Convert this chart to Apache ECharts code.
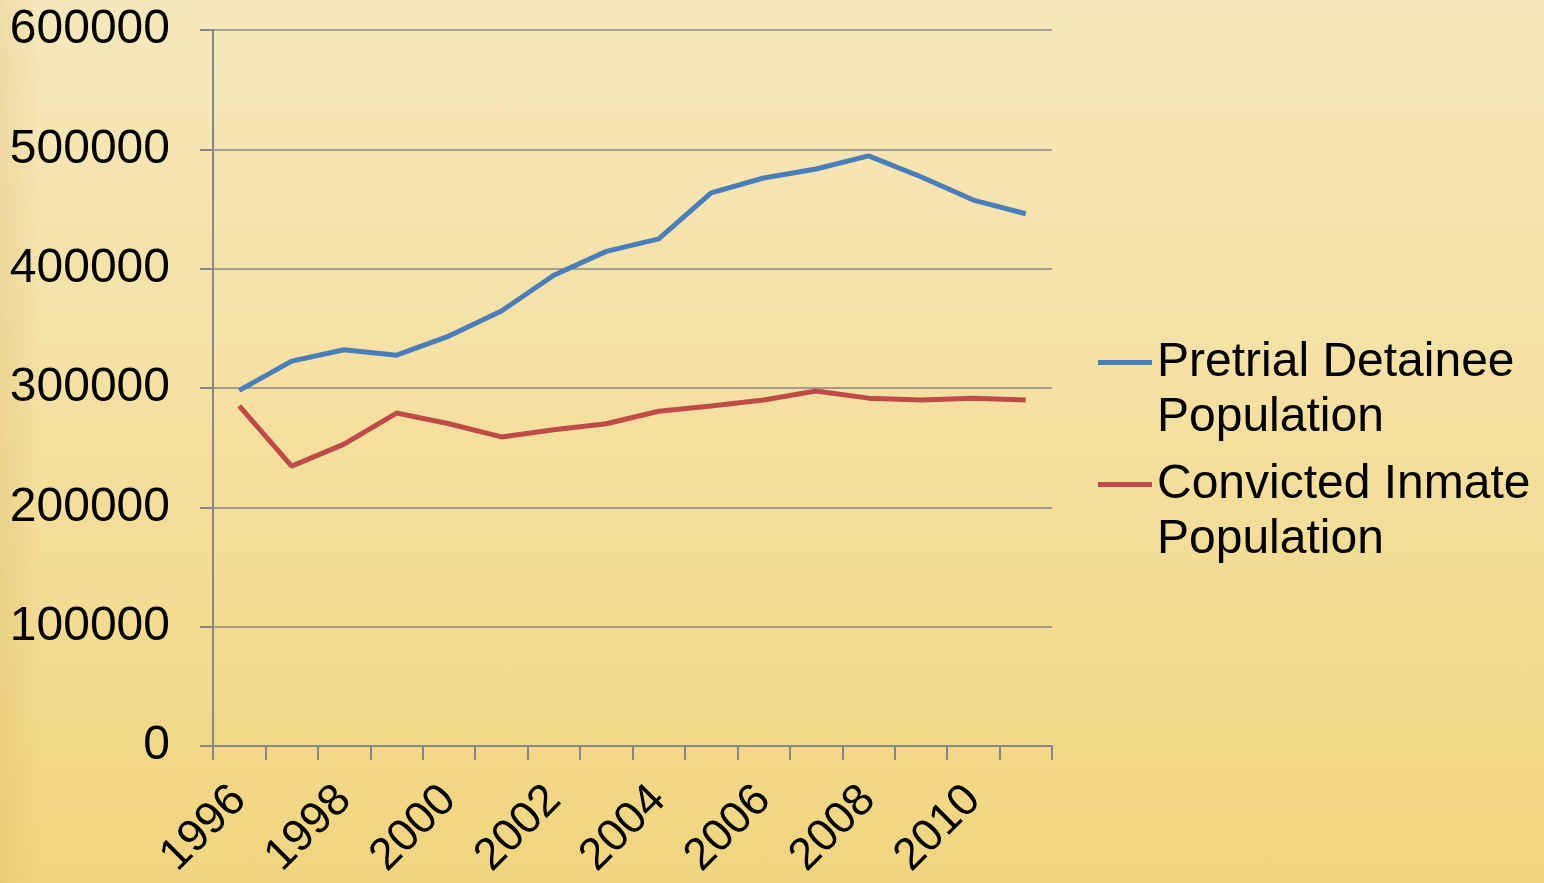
<!DOCTYPE html>
<html>
<head>
<meta charset="utf-8">
<script src="https://cdn.jsdelivr.net/npm/echarts@6/dist/echarts.min.js"></script>
<style>
html,body{margin:0;padding:0;width:1544px;height:883px;overflow:hidden;}
#c{width:1544px;height:883px;background:linear-gradient(90deg,rgba(200,160,80,0.18) 0px,rgba(200,160,80,0) 40px),linear-gradient(180deg,#f6e8bc 0%,#f4df9e 50%,#f1d57f 100%);}
</style>
</head>
<body>
<div id="c"></div>
<script>
const years = ['1996','1997','1998','1999','2000','2001','2002','2003','2004','2005','2006','2007','2008','2009','2010','2011'];
const pretrial = [298000,322500,332000,327500,343500,364500,394500,414500,425000,463500,476000,483500,494500,477000,457500,446000];
const convicted = [285000,234500,253000,279000,270000,259000,265000,270000,280500,285000,290000,297500,291500,290000,291500,290000];
const seriesNames = ['Pretrial Detainee\nPopulation','Convicted Inmate\nPopulation'];
const yTicks = {min:0, max:600000, interval:100000};

const font = '"Liberation Sans", Arial, sans-serif';
const chart = echarts.init(document.getElementById('c'), null, {renderer:'canvas'});
const legendText = {fontSize:48, fontFamily:font, color:'#000', lineHeight:55};
const legendFmt = function(n){ return '\n' + n; };
chart.setOption({
  backgroundColor:'transparent',
  animation:false,
  grid:{left:213, right:492, top:30, bottom:137, containLabel:false},
  legend:[
    {data:[seriesNames[0]], orient:'vertical', left:1098, top:280, padding:0, icon:'rect', itemWidth:54, itemHeight:5, itemGap:0, textStyle:legendText, formatter:legendFmt},
    {data:[seriesNames[1]], orient:'vertical', left:1098, top:402, padding:0, icon:'rect', itemWidth:54, itemHeight:5, itemGap:0, textStyle:legendText, formatter:legendFmt}
  ],
  xAxis:{
    type:'category', data:years, boundaryGap:true,
    axisLine:{lineStyle:{color:'#878787', width:2}},
    axisTick:{show:true, interval:0, length:14, lineStyle:{color:'#878787', width:2}},
    axisLabel:{interval:1, rotate:45, fontSize:45, fontFamily:font, color:'#000', margin:47}
  },
  yAxis:{
    type:'value', min:yTicks.min, max:yTicks.max, interval:yTicks.interval,
    axisLine:{show:true, lineStyle:{color:'#878787', width:2}},
    axisTick:{show:true, length:13, lineStyle:{color:'#878787', width:2}},
    splitLine:{show:true, lineStyle:{color:'#878787', width:1.5}},
    axisLabel:{fontSize:48, fontFamily:font, color:'#000', margin:43, formatter:function(v){return String(v);}}
  },
  series:[
    {name:seriesNames[0], type:'line', data:pretrial, showSymbol:false, symbol:'none', lineStyle:{color:'#4a7ebb', width:5}, itemStyle:{color:'#4a7ebb'}},
    {name:seriesNames[1], type:'line', data:convicted, showSymbol:false, symbol:'none', lineStyle:{color:'#be4b48', width:5}, itemStyle:{color:'#be4b48'}}
  ]
});
</script>
</body>
</html>
